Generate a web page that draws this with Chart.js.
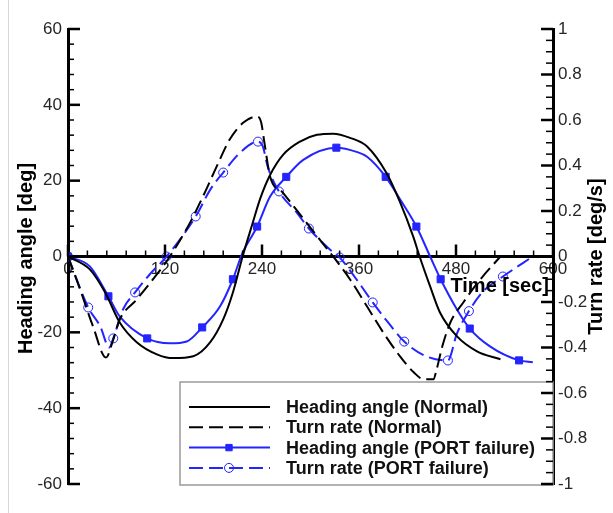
<!DOCTYPE html>
<html>
<head>
<meta charset="utf-8">
<script src="https://cdn.jsdelivr.net/npm/chart.js@4.4.1/dist/chart.umd.min.js"></script>
<style>
  html, body { margin: 0; padding: 0; background: #fff; }
  #wrap { position: relative; width: 613px; height: 513px; }
</style>
</head>
<body>
<div id="wrap"><canvas id="headingChart" width="613" height="513"></canvas></div>
<script>
// tick labels
const timeTicks = [0, 120, 240, 360, 480, 600];
const headingTicks = [-60, -40, -20, 0, 20, 40, 60];
const rateTicks = [-1, -0.8, -0.6, -0.4, -0.2, 0, 0.2, 0.4, 0.6, 0.8, 1];

// Heading angle (Normal) [deg]
const headingNormalT = [0, 27, 46, 64, 85, 110, 130, 155, 176, 192, 204, 216, 228, 238, 250, 266, 287, 308, 328, 349, 370, 394, 411, 427, 435, 448, 460, 481, 506, 535];
const headingNormal = [0, -3.4, -9.5, -17.4, -22.6, -25.8, -26.8, -26.3, -22.6, -16.6, -9.5, 0, 8.5, 15.4, 21.5, 26.8, 30.3, 32.1, 32.4, 31.3, 29, 22, 14.2, 5.3, 0, -7.9, -14.7, -21, -25, -27.1];

// Turn rate (Normal) [deg/s]
const turnNormalT = [0, 15, 31, 47, 56, 64, 85, 105, 126, 151, 167, 184, 200, 217, 234, 239, 243, 250, 266, 287, 308, 328, 349, 370, 390, 411, 428, 440, 452, 456, 463, 473, 489, 510, 535];
const turnNormal = [0, -0.145, -0.308, -0.444, -0.365, -0.277, -0.189, -0.101, 0, 0.149, 0.264, 0.396, 0.514, 0.589, 0.615, 0.589, 0.5, 0.352, 0.28, 0.185, 0.09, 0, -0.101, -0.22, -0.334, -0.44, -0.51, -0.54, -0.54, -0.497, -0.396, -0.29, -0.202, -0.101, 0];

// Heading angle (PORT failure) [deg]
const headingPortT = [0, 27, 50, 64, 98, 126, 147, 166, 188, 204, 215, 234, 250, 270, 291, 332, 357, 370, 393, 411, 431, 448, 461, 481, 497, 522, 558, 575];
const headingPort = [0, -2.6, -10.5, -15.8, -21.6, -22.9, -22.4, -18.7, -13.2, -6, 0.5, 7.9, 15.8, 21, 25.5, 28.7, 27.6, 26.3, 21, 15, 7.9, 0, -6, -13.9, -19, -23.7, -27.4, -27.9];
const headingPortMarks = [0, 50, 98, 166, 204, 234, 270, 332, 393, 431, 461, 497, 558];

// Turn rate (PORT failure) [deg/s]
const turnPortT = [0, 25, 40, 51, 56, 68, 83, 101, 122, 158, 176, 192, 213, 235, 241, 247, 261, 283, 298, 324, 336, 357, 377, 396, 416, 444, 470, 481, 496, 513, 538, 575];
const turnPort = [0, -0.224, -0.308, -0.4, -0.36, -0.233, -0.158, -0.079, 0, 0.176, 0.294, 0.369, 0.457, 0.505, 0.484, 0.396, 0.286, 0.193, 0.123, 0.031, -0.004, -0.101, -0.202, -0.29, -0.374, -0.44, -0.457, -0.34, -0.24, -0.155, -0.088, 0];
const turnPortMarks = [0, 25, 56, 83, 122, 158, 192, 235, 261, 298, 336, 377, 416, 470, 496, 538];

const BLUE = 'rgb(36,36,255)';
const FONT = "'Liberation Sans', Arial, Helvetica, sans-serif";
const tickFont = { family: FONT, size: 17 };
const tickColor = '#262626';

const pts = (ts, vs) => ts.map((t, i) => ({ x: t, y: vs[i] }));
const marked = (list, r) => c => (c.type === 'data' && list.includes(c.raw.x)) ? r : 0;

// legend, inward tick marks and axis titles (Tecplot look)
const figureDecor = {
  id: 'figureDecor',
  afterDraw(chart) {
    const { ctx, chartArea: a, scales } = chart;
    ctx.save();

    // faint page edge line
    ctx.strokeStyle = '#d6d6d6';
    ctx.lineWidth = 1;
    ctx.beginPath(); ctx.moveTo(8.5, 0); ctx.lineTo(8.5, 513); ctx.stroke();

    // legend box
    const bl = 180, bt = 382, br = a.right, bb = a.bottom + 1;
    ctx.fillStyle = '#fff';
    ctx.fillRect(bl, bt, br - bl, bb - bt);
    ctx.strokeStyle = '#9a9a9a';
    ctx.lineWidth = 1.5;
    ctx.strokeRect(bl, bt, br - bl, bb - bt);
    chart.data.datasets.forEach((ds, i) => {
      const y = 407 + i * 20.3;
      ctx.strokeStyle = ds.borderColor;
      ctx.lineWidth = ds.borderWidth;
      ctx.setLineDash(ds.borderDash || []);
      ctx.beginPath(); ctx.moveTo(189, y); ctx.lineTo(270, y); ctx.stroke();
      ctx.setLineDash([]);
      if (ds.legendMarker) {
        ctx.fillStyle = ds.pointBackgroundColor;
        ctx.strokeStyle = ds.pointBorderColor;
        ctx.lineWidth = ds.pointBorderWidth;
        Chart.helpers.drawPoint(ctx, { pointStyle: ds.pointStyle, radius: ds.legendMarker, borderWidth: ds.pointBorderWidth, rotation: 0 }, 229, y);
      }
      ctx.fillStyle = '#111';
      ctx.font = 'bold 18px ' + FONT;
      ctx.textAlign = 'left';
      ctx.textBaseline = 'middle';
      ctx.fillText(ds.label, 286, y + 1);
    });

    // inward tick marks
    ctx.strokeStyle = '#000';
    const tick = (x1, y1, x2, y2, major) => {
      ctx.lineWidth = major ? 2.5 : 1.5;
      ctx.beginPath(); ctx.moveTo(x1, y1); ctx.lineTo(x2, y2); ctx.stroke();
    };
    for (let v = -60; v <= 60; v += 4) {
      const y = scales.y.getPixelForValue(v), major = v % 20 === 0;
      tick(a.left, y, a.left + (major ? 12 : 6), y, major);
    }
    for (let k = -20; k <= 20; k++) {
      const y = scales.y2.getPixelForValue(k * 0.05), major = k % 4 === 0;
      tick(a.right, y, a.right - (major ? 12 : 7), y, major);
    }
    const y0 = scales.y.getPixelForValue(0);
    for (let t = 0; t <= 600; t += 24) {
      const x = scales.x.getPixelForValue(t), major = t % 120 === 0;
      tick(x, y0, x, y0 - (major ? 12 : 6), major);
    }

    // axis titles
    ctx.fillStyle = '#000';
    ctx.font = 'bold 20px ' + FONT;
    ctx.textBaseline = 'middle';
    ctx.textAlign = 'center';
    ctx.save();
    ctx.translate(26, (a.top + a.bottom) / 2 + 2);
    ctx.rotate(-Math.PI / 2);
    ctx.fillText('Heading angle [deg]', 0, 0);
    ctx.restore();
    ctx.save();
    ctx.translate(596, (a.top + a.bottom) / 2);
    ctx.rotate(-Math.PI / 2);
    ctx.fillText('Turn rate [deg/s]', 0, 0);
    ctx.restore();
    ctx.textAlign = 'right';
    ctx.fillText('Time [sec]', a.right - 4, y0 + 30);

    ctx.restore();
  }
};

new Chart(document.getElementById('headingChart'), {
  type: 'line',
  data: {
    datasets: [
      {
        label: 'Heading angle (Normal)',
        data: pts(headingNormalT, headingNormal),
        yAxisID: 'y',
        borderColor: '#000',
        borderWidth: 2,
        pointRadius: 0,
        cubicInterpolationMode: 'monotone'
      },
      {
        label: 'Turn rate (Normal)',
        data: pts(turnNormalT, turnNormal),
        yAxisID: 'y2',
        borderColor: '#000',
        borderWidth: 2,
        borderDash: [14, 6],
        pointRadius: 0,
        cubicInterpolationMode: 'monotone'
      },
      {
        label: 'Heading angle (PORT failure)',
        data: pts(headingPortT, headingPort),
        yAxisID: 'y',
        borderColor: BLUE,
        borderWidth: 2,
        pointStyle: 'rect',
        pointRadius: marked(headingPortMarks, 5),
        pointBackgroundColor: BLUE,
        pointBorderColor: BLUE,
        pointBorderWidth: 1,
        legendMarker: 4.5,
        cubicInterpolationMode: 'monotone'
      },
      {
        label: 'Turn rate (PORT failure)',
        data: pts(turnPortT, turnPort),
        yAxisID: 'y2',
        borderColor: BLUE,
        borderWidth: 2,
        borderDash: [14, 6],
        pointStyle: 'circle',
        pointRadius: marked(turnPortMarks, 4.5),
        pointBackgroundColor: 'rgba(255,255,255,0)',
        pointBorderColor: BLUE,
        pointBorderWidth: 1,
        legendMarker: 4.5,
        cubicInterpolationMode: 'monotone'
      }
    ]
  },
  options: {
    responsive: false,
    animation: false,
    devicePixelRatio: 1,
    layout: { padding: { top: 29, bottom: 29, left: 0, right: 0 } },
    plugins: { legend: { display: false }, tooltip: { enabled: false } },
    scales: {
      x: {
        type: 'linear', min: 0, max: 600, position: { y: 0 },
        afterBuildTicks: s => { s.ticks = timeTicks.map(v => ({ value: v })); },
        ticks: { font: tickFont, color: tickColor, padding: 3, maxRotation: 0, autoSkip: false, callback: v => String(v) },
        grid: { drawOnChartArea: false, drawTicks: false },
        border: { color: '#000', width: 3 }
      },
      y: {
        position: 'left', min: -60, max: 60,
        afterBuildTicks: s => { s.ticks = headingTicks.map(v => ({ value: v })); },
        afterFit: s => { s.width = 68; },
        ticks: { font: tickFont, color: tickColor, padding: 6, callback: v => String(v) },
        grid: { drawOnChartArea: false, drawTicks: false },
        border: { color: '#000', width: 3 }
      },
      y2: {
        position: 'right', min: -1, max: 1,
        afterBuildTicks: s => { s.ticks = rateTicks.map(v => ({ value: v })); },
        afterFit: s => { s.width = 60; },
        ticks: { font: tickFont, color: tickColor, padding: 5, callback: v => String(Math.round(v * 10) / 10) },
        grid: { drawOnChartArea: false, drawTicks: false },
        border: { color: '#000', width: 3 }
      }
    }
  },
  plugins: [figureDecor]
});
</script>
</body>
</html>
